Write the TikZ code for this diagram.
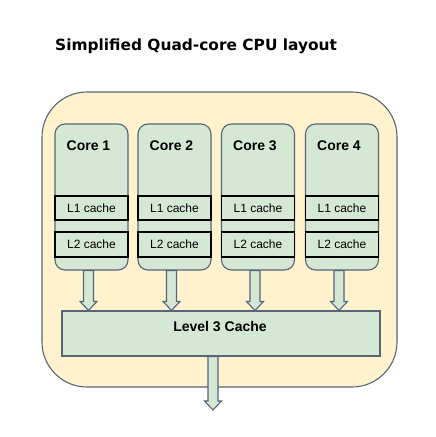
\documentclass[tikz,border=0pt]{standalone}
\usepackage{fontspec}
\setmainfont{Liberation Sans}
\newfontfamily\titlefont{DejaVu Sans}
\usetikzlibrary{calc}
\definecolor{yfill}{HTML}{FFF2CC}
\definecolor{gfill}{HTML}{D5E8D4}
\definecolor{gstroke}{HTML}{56657A}
\newcommand{\blockarrow}[2]{\path[blockarr] let \p1=(#1), \p2=(#2) in
  (\x1-5pt,\y1) -- (\x1+5pt,\y1) -- (\x1+5pt,\y2+9pt) -- (\x1+8.5pt,\y2+9pt)
  -- (\x1,\y2) -- (\x1-8.5pt,\y2+9pt) -- (\x1-5pt,\y2+9pt) -- cycle;}
\tikzset{
  outerbox/.style={draw=gstroke, fill=yfill, rounded corners=45pt, line width=1.1pt, inner sep=0pt},
  corebox/.style={draw=gstroke, fill=gfill, rounded corners=10pt, line width=1.1pt, inner sep=0pt,
    minimum width=73pt, minimum height=146pt},
  cachebox/.style={draw=black, fill=gfill, line width=1.1pt, inner sep=0pt,
    minimum width=73pt, font=\fontsize{12pt}{14pt}\selectfont},
  coretext/.style={font=\bfseries\fontsize{14pt}{16pt}\selectfont, inner sep=0pt},
  l3box/.style={draw=gstroke, fill=gfill, line width=1.1pt, inner sep=0pt,
    minimum width=318pt, minimum height=45pt},
  blockarr/.style={draw=gstroke, fill=gfill, line width=1.1pt, line join=miter},
}
\begin{document}
\begin{tikzpicture}[x=1pt,y=1pt]
\useasboundingbox (0,0) rectangle (436,-437);
\fill[white] (0,0) rectangle (436,-437);

\node[font=\titlefont\bfseries\fontsize{15.4pt}{18pt}\selectfont, anchor=base west, inner sep=0pt] (title) at (55,-50) {Simplified Quad-core CPU layout};

\node[outerbox, minimum width=355pt, minimum height=295pt] (cpu) at (219.5,-239.5) {};

\foreach \i/\cx in {1/91.5, 2/174.5, 3/258, 4/342} {
  \node[corebox] (c\i) at (\cx,-197) {};
  \node[coretext] (t\i) at (\cx-3,-146) {Core \i};
  \node[cachebox, minimum height=24pt] (la\i) at (\cx,-208) {L1 cache};
  \node[cachebox, minimum height=25pt] (lb\i) at (\cx,-244.5) {L2 cache};
}

\node[l3box] (l3) at (221,-333.5) {};
\node[coretext] (l3t) at (220,-327) {Level 3 Cache};

\foreach \i in {1,2,3,4} {
  \coordinate (a\i) at ($(c\i.south)+(-3,0)$);
  \blockarrow{a\i}{a\i |- l3.north}
}
\coordinate (b0) at ($(l3.south)+(-8,0)$);
\coordinate (out) at (213,-410);
\blockarrow{b0}{out}
\end{tikzpicture}
\end{document}
